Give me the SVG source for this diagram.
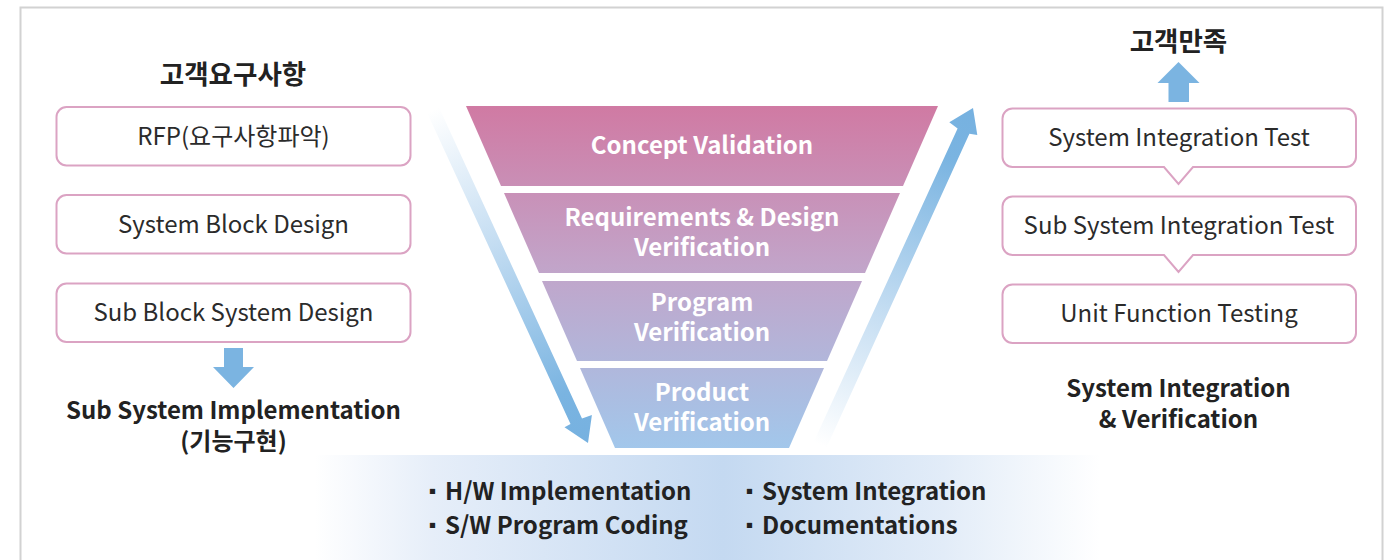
<svg xmlns="http://www.w3.org/2000/svg" width="1385" height="560" viewBox="0 0 1385 560">
<style>
  text { font-family: "Noto Sans CJK KR", "Noto Sans", sans-serif; }
  .box { fill: #ffffff; stroke: #dba3c3; stroke-width: 2; }
  .bt { font-size: 24px; fill: #2b2b2b; text-anchor: middle; }
  .ht { font-size: 24px; font-weight: bold; fill: #222222; text-anchor: middle; }
  .kt { font-size: 26.5px; font-weight: bold; fill: #222222; text-anchor: middle; }
  .ft { font-size: 24px; font-weight: bold; fill: #ffffff; text-anchor: middle; }
  .lt { font-size: 24px; font-weight: bold; fill: #222222; }
  .bul { font-size: 19px; }
  .blue { fill: #7bb4e1; }
</style>
<defs>
  <linearGradient id="funnelGrad" gradientUnits="userSpaceOnUse" x1="0" y1="106" x2="0" y2="448">
    <stop offset="0" stop-color="#d07aa3"/>
    <stop offset="0.47" stop-color="#c2a4c9"/>
    <stop offset="1" stop-color="#a2c7eb"/>
  </linearGradient>
  <linearGradient id="downGrad" gradientUnits="userSpaceOnUse" x1="433" y1="110" x2="588" y2="443">
    <stop offset="0" stop-color="#ffffff"/>
    <stop offset="0.4" stop-color="#c4ddf2"/>
    <stop offset="0.85" stop-color="#7ab4e1"/>
    <stop offset="1" stop-color="#76b1e0"/>
  </linearGradient>
  <linearGradient id="upGrad" gradientUnits="userSpaceOnUse" x1="820" y1="445" x2="973" y2="108">
    <stop offset="0" stop-color="#ffffff"/>
    <stop offset="0.4" stop-color="#c4ddf2"/>
    <stop offset="0.85" stop-color="#7ab4e1"/>
    <stop offset="1" stop-color="#76b1e0"/>
  </linearGradient>
  <linearGradient id="bandGrad" gradientUnits="userSpaceOnUse" x1="315" y1="0" x2="1100" y2="0">
    <stop offset="0" stop-color="#ffffff"/>
    <stop offset="0.15" stop-color="#e6eef9"/>
    <stop offset="0.52" stop-color="#c4d9f1"/>
    <stop offset="0.8" stop-color="#e2ecf8"/>
    <stop offset="1" stop-color="#ffffff"/>
  </linearGradient>
</defs>

<rect x="0" y="0" width="1385" height="560" fill="#ffffff"/>
<rect id="frame" x="20.5" y="7.5" width="1362" height="600" fill="none" stroke="#d2d2d2" stroke-width="2"/>

<g id="bottom-band">
  <rect x="315" y="455" width="785" height="110" fill="url(#bandGrad)"/>
  <text class="lt" y="500"><tspan class="bul" x="423" dy="-1">▪</tspan><tspan x="445" dy="1">H/W Implementation</tspan></text>
  <text class="lt" y="534"><tspan class="bul" x="423" dy="-1">▪</tspan><tspan x="445" dy="1">S/W Program Coding</tspan></text>
  <text class="lt" y="500"><tspan class="bul" x="740" dy="-1">▪</tspan><tspan x="762" dy="1">System Integration</tspan></text>
  <text class="lt" y="534"><tspan class="bul" x="740" dy="-1">▪</tspan><tspan x="762" dy="1">Documentations</tspan></text>
</g>

<g id="connectors">
  <polygon id="arrow-down-diag" fill="url(#downGrad)" points="427.1,112.7 438.9,107.3 582.0,418.5 591.9,414.9 588,443 564.5,427.3 570.5,423.9"/>
  <polygon id="arrow-up-diag" fill="url(#upGrad)" points="813.6,442.3 826.4,447.7 969.4,133.8 977.3,135 973,108 949.3,122.3 957.6,128.4"/>
  <polygon id="arrow-down-left" class="blue" points="224,348 243,348 243,367 254,367 233.5,388 213,367 224,367"/>
  <polygon id="arrow-up-right" class="blue" points="1178.5,62 1199.5,83 1189,83 1189,102 1168.5,102 1168.5,83 1157.5,83"/>
</g>

<g id="funnel">
  <g id="band-concept">
    <polygon fill="url(#funnelGrad)" points="466,106 938,106 903,186 501,186"/>
    <text class="ft" x="702" y="154">Concept Validation</text>
  </g>
  <g id="band-requirements">
    <polygon fill="url(#funnelGrad)" points="504,193 900,193 865,273 539,273"/>
    <text class="ft" x="702" y="226">Requirements &amp; Design</text>
    <text class="ft" x="702" y="256">Verification</text>
  </g>
  <g id="band-program">
    <polygon fill="url(#funnelGrad)" points="542,281 862,281 827,361 577,361"/>
    <text class="ft" x="702" y="311">Program</text>
    <text class="ft" x="702" y="341">Verification</text>
  </g>
  <g id="band-product">
    <polygon fill="url(#funnelGrad)" points="580,368 824,368 789,448 615,448"/>
    <text class="ft" x="702" y="401">Product</text>
    <text class="ft" x="702" y="431">Verification</text>
  </g>
</g>

<g id="left-title">
  <text class="kt" x="233" y="84">고객요구사항</text>
</g>
<g id="box-rfp">
  <rect class="box" x="56.5" y="107" width="354" height="58.5" rx="10"/>
  <text class="bt" x="233.5" y="144.5">RFP(요구사항파악)</text>
</g>
<g id="box-system-block">
  <rect class="box" x="56.5" y="195" width="354" height="58.5" rx="10"/>
  <text class="bt" x="233.5" y="232.5">System Block Design</text>
</g>
<g id="box-sub-block">
  <rect class="box" x="56.5" y="283.5" width="354" height="58.5" rx="10"/>
  <text class="bt" x="233.5" y="321">Sub Block System Design</text>
</g>
<g id="left-footer">
  <text class="ht" x="233.5" y="419">Sub System Implementation</text>
  <text class="ht" x="233.5" y="450">(기능구현)</text>
</g>

<g id="right-title">
  <text class="kt" x="1178.5" y="51">고객만족</text>
</g>
<g id="box-sit">
  <path class="box" d="M1012.5,108.5 H1346 A10,10 0 0 1 1356,118.5 V157 A10,10 0 0 1 1346,167 H1193 L1178.5,184 L1164,167 H1012.5 A10,10 0 0 1 1002.5,157 V118.5 A10,10 0 0 1 1012.5,108.5 Z"/>
  <text class="bt" x="1179" y="146">System Integration Test</text>
</g>
<g id="box-ssit">
  <path class="box" d="M1012.5,196.5 H1346 A10,10 0 0 1 1356,206.5 V245 A10,10 0 0 1 1346,255 H1193 L1178.5,272 L1164,255 H1012.5 A10,10 0 0 1 1002.5,245 V206.5 A10,10 0 0 1 1012.5,196.5 Z"/>
  <text class="bt" x="1179" y="234">Sub System Integration Test</text>
</g>
<g id="box-unit">
  <rect class="box" x="1002.5" y="284.5" width="353.5" height="58.5" rx="10"/>
  <text class="bt" x="1179" y="322">Unit Function Testing</text>
</g>
<g id="right-footer">
  <text class="ht" x="1178.5" y="397">System Integration</text>
  <text class="ht" x="1178.5" y="428">&amp; Verification</text>
</g>
</svg>
